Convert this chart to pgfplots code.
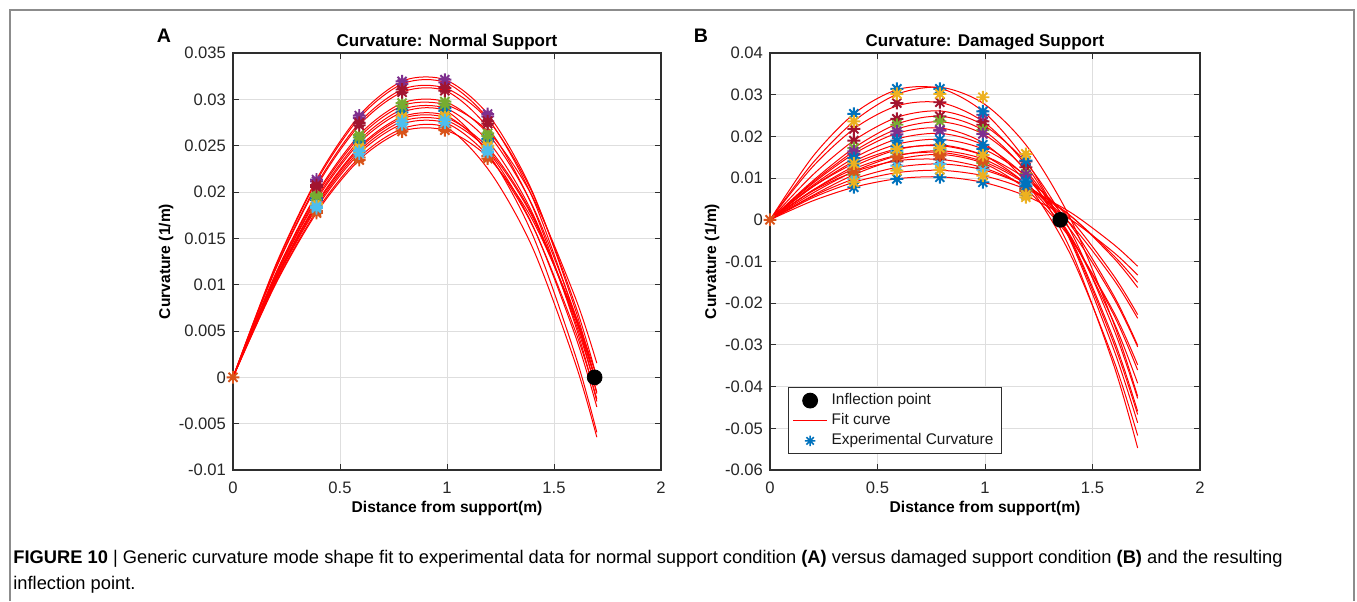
\documentclass[border=0pt]{standalone}
\usepackage{fontspec}
\setmainfont{Liberation Sans}
\usepackage{pgfplots}
\pgfplotsset{compat=1.18}
\definecolor{mblue}{rgb}{0,0.447,0.741}
\definecolor{morange}{rgb}{0.850,0.325,0.098}
\definecolor{myellow}{rgb}{0.929,0.694,0.125}
\definecolor{mpurple}{rgb}{0.494,0.184,0.556}
\definecolor{mgreen}{rgb}{0.466,0.674,0.188}
\definecolor{mltblue}{rgb}{0.301,0.745,0.933}
\definecolor{mdkred}{rgb}{0.635,0.078,0.184}
\pgfdeclareplotmark{ast8}{%
  \pgfpathmoveto{\pgfqpoint{-\pgfplotmarksize}{0pt}}\pgfpathlineto{\pgfqpoint{\pgfplotmarksize}{0pt}}%
  \pgfpathmoveto{\pgfqpoint{0pt}{-\pgfplotmarksize}}\pgfpathlineto{\pgfqpoint{0pt}{\pgfplotmarksize}}%
  \pgfpathmoveto{\pgfqpoint{-0.707\pgfplotmarksize}{-0.707\pgfplotmarksize}}\pgfpathlineto{\pgfqpoint{0.707\pgfplotmarksize}{0.707\pgfplotmarksize}}%
  \pgfpathmoveto{\pgfqpoint{-0.707\pgfplotmarksize}{0.707\pgfplotmarksize}}\pgfpathlineto{\pgfqpoint{0.707\pgfplotmarksize}{-0.707\pgfplotmarksize}}%
  \pgfusepathqstroke}
\pgfplotsset{
  mstyle/.style={
    scale only axis, clip=false,
    axis line style={draw=black!82, line width=0.6pt},
    tick align=inside, major tick length=2.8pt,
    tick style={black!82, line width=0.5pt},
    grid=major, major grid style={black!13, line width=0.5pt},
    xmin=0, xmax=2, xtick={0,0.5,1,1.5,2}, xticklabels={0,0.5,1,1.5,2},
    tick label style={font=\fontsize{8.3}{10}\selectfont, text=black!85},
    xticklabel style={yshift=-2.5pt},
    scaled ticks=false,
    title style={font=\bfseries\fontsize{8.5}{10}\selectfont, at={(0.5,1.029)}, anchor=center, yshift=-6.5pt},
    xlabel style={font=\bfseries\fontsize{7.8}{9}\selectfont, at={(0.5,-0.0911)}, anchor=center},
    ylabel style={font=\bfseries\fontsize{7.8}{9}\selectfont, anchor=center},
    xlabel={Distance from support(m)}, ylabel={Curvature (1/m)},
  },
  fitc/.style={red, line width=0.5pt, smooth, no marks, forget plot},
  expm/.style={only marks, mark=ast8, mark size=3.2pt, line width=0.95pt, forget plot},
}
\begin{document}
\begin{tikzpicture}
\path[use as bounding box] (0,0) rectangle (678.5pt,-300.5pt);
\draw[black!45, line width=0.6pt] (5pt,-300.5pt) -- (5pt,-5pt) -- (677pt,-5pt) -- (677pt,-300.5pt);
\node[font=\bfseries\fontsize{9.8}{11}\selectfont] at (82pt,-18pt) {A};
\node[font=\bfseries\fontsize{9.8}{11}\selectfont] at (350.5pt,-18pt) {B};
\node[anchor=base west, font=\fontsize{9.15}{10}\selectfont, inner sep=0pt] at (6.5pt,-281.5pt) {\textbf{FIGURE 10} | Generic curvature mode shape fit to experimental data for normal support condition \textbf{(A)} versus damaged support condition \textbf{(B)} and the resulting};
\node[anchor=base west, font=\fontsize{9.15}{10}\selectfont, inner sep=0pt] at (6.5pt,-294.5pt) {inflection point.};

% ---------------- Panel A ----------------
\begin{axis}[mstyle, at={(116.5pt,-26.5pt)}, anchor=north west, width=214pt, height=208.5pt,
  ymin=-0.01, ymax=0.035,
  ytick={-0.01,-0.005,0,0.005,0.01,0.015,0.02,0.025,0.03,0.035},
  yticklabels={-0.01,-0.005,0,0.005,0.01,0.015,0.02,0.025,0.03,0.035},
  title={Curvature: Normal Support},
  ylabel style={at={(-0.1565,0.5)}}]
\addplot[fitc] coordinates {(0,0) (0.2,0.012145) (0.4,0.021759) (0.6,0.028506) (0.8,0.032042) (1.0,0.032029) (1.2,0.028126) (1.4,0.019994) (1.6,0.007296) (1.7,-0.000874)};
\addplot[fitc] coordinates {(0,0) (0.2,0.012033) (0.4,0.021558) (0.6,0.028243) (0.8,0.031746) (1.0,0.031733) (1.2,0.027653) (1.4,0.019381) (1.6,0.006514) (1.7,-0.001752)};
\addplot[fitc] coordinates {(0,0) (0.2,0.011809) (0.4,0.021156) (0.6,0.027716) (0.8,0.031154) (1.0,0.031142) (1.2,0.027552) (1.4,0.019851) (1.6,0.00778) (1.7,0)};
\addplot[fitc] coordinates {(0,0) (0.2,0.011697) (0.4,0.020955) (0.6,0.027453) (0.8,0.030859) (1.0,0.030846) (1.2,0.026664) (1.4,0.018404) (1.6,0.005609) (1.7,-0.002595)};
\addplot[fitc] coordinates {(0,0) (0.2,0.011248) (0.4,0.020152) (0.6,0.026401) (0.8,0.029676) (1.0,0.029664) (1.2,0.026049) (1.4,0.018518) (1.6,0.006757) (1.7,-0.00081)};
\addplot[fitc] coordinates {(0,0) (0.2,0.011136) (0.4,0.019951) (0.6,0.026138) (0.8,0.02938) (1.0,0.029368) (1.2,0.02634) (1.4,0.019462) (1.6,0.008576) (1.7,0.001535)};
\addplot[fitc] coordinates {(0,0) (0.2,0.010688) (0.4,0.019148) (0.6,0.025085) (0.8,0.028197) (1.0,0.028185) (1.2,0.024161) (1.4,0.016411) (1.6,0.004456) (1.7,-0.003197)};
\addplot[fitc] coordinates {(0,0) (0.2,0.010613) (0.4,0.019014) (0.6,0.02491) (0.8,0.028) (1.0,0.027988) (1.2,0.024577) (1.4,0.017472) (1.6,0.006376) (1.7,-0.000764)};
\addplot[fitc] coordinates {(0,0) (0.2,0.010987) (0.4,0.019683) (0.6,0.025787) (0.8,0.028985) (1.0,0.028974) (1.2,0.025249) (1.4,0.017696) (1.6,0.005948) (1.7,-0.001599)};
\addplot[fitc] coordinates {(0,0) (0.2,0.010875) (0.4,0.019482) (0.6,0.025524) (0.8,0.02869) (1.0,0.028678) (1.2,0.023911) (1.4,0.015379) (1.6,0.00236) (1.7,-0.005936)};
\addplot[fitc] coordinates {(0,0) (0.2,0.010501) (0.4,0.018813) (0.6,0.024647) (0.8,0.027704) (1.0,0.027693) (1.2,0.024318) (1.4,0.017287) (1.6,0.006308) (1.7,-0.000756)};
\addplot[fitc] coordinates {(0,0) (0.2,0.010389) (0.4,0.018612) (0.6,0.024383) (0.8,0.027408) (1.0,0.027397) (1.2,0.023683) (1.4,0.016346) (1.6,0.004982) (1.7,-0.002305)};
\addplot[fitc] coordinates {(0,0) (0.2,0.010202) (0.4,0.018277) (0.6,0.023945) (0.8,0.026915) (1.0,0.026904) (1.2,0.022209) (1.4,0.013986) (1.6,0.001499) (1.7,-0.006456)};
\addplot[fitc] coordinates {(0,0) (0.2,0.01009) (0.4,0.018077) (0.6,0.023682) (0.8,0.026619) (1.0,0.026609) (1.2,0.023541) (1.4,0.016961) (1.6,0.006647) (1.7,0)};
% experimental markers
\addplot[expm, color=mblue] coordinates {(0.39,0.01931) (0.59,0.02555) (0.79,0.0289) (0.99,0.02905) (1.19,0.02571)};
\addplot[expm, color=mblue] coordinates {(0.39,0.01911) (0.59,0.02528) (0.79,0.0286) (0.99,0.02876) (1.19,0.02545)};
\addplot[expm, color=morange] coordinates {(0.39,0.01793) (0.59,0.02372) (0.79,0.02683) (0.99,0.02698) (1.19,0.02387)};
\addplot[expm, color=morange] coordinates {(0.39,0.01773) (0.59,0.02346) (0.79,0.02654) (0.99,0.02668) (1.19,0.02361)};
\addplot[expm, color=myellow] coordinates {(0.39,0.01878) (0.59,0.02485) (0.79,0.02811) (0.99,0.02826) (1.19,0.02501)};
\addplot[expm, color=myellow] coordinates {(0.39,0.01865) (0.59,0.02468) (0.79,0.02791) (0.99,0.02806) (1.19,0.02483)};
\addplot[expm, color=mpurple] coordinates {(0.39,0.02134) (0.59,0.02824) (0.79,0.03194) (0.99,0.03212) (1.19,0.02842)};
\addplot[expm, color=mpurple] coordinates {(0.39,0.02115) (0.59,0.02798) (0.79,0.03165) (0.99,0.03182) (1.19,0.02816)};
\addplot[expm, color=mgreen] coordinates {(0.39,0.01977) (0.59,0.02615) (0.79,0.02959) (0.99,0.02975) (1.19,0.02632)};
\addplot[expm, color=mgreen] coordinates {(0.39,0.01957) (0.59,0.02589) (0.79,0.02929) (0.99,0.02945) (1.19,0.02606)};
\addplot[expm, color=mltblue] coordinates {(0.39,0.01845) (0.59,0.02442) (0.79,0.02762) (0.99,0.02777) (1.19,0.02457)};
\addplot[expm, color=mltblue] coordinates {(0.39,0.01826) (0.59,0.02416) (0.79,0.02732) (0.99,0.02747) (1.19,0.02431)};
\addplot[expm, color=mdkred] coordinates {(0.39,0.02075) (0.59,0.02746) (0.79,0.03106) (0.99,0.03123) (1.19,0.02763)};
\addplot[expm, color=mdkred] coordinates {(0.39,0.02055) (0.59,0.0272) (0.79,0.03077) (0.99,0.03093) (1.19,0.02737)};
\addplot[expm, color=morange] coordinates {(0,0)};
\addplot[only marks, mark=*, mark size=3.7pt, black, forget plot] coordinates {(1.69,0)};
\end{axis}

% ---------------- Panel B ----------------
\begin{axis}[mstyle, at={(385pt,-26.5pt)}, anchor=north west, width=215pt, height=208.5pt,
  ymin=-0.06, ymax=0.04,
  ytick={-0.06,-0.05,-0.04,-0.03,-0.02,-0.01,0,0.01,0.02,0.03,0.04},
  yticklabels={-0.06,-0.05,-0.04,-0.03,-0.02,-0.01,0,0.01,0.02,0.03,0.04},
  title={Curvature: Damaged Support},
  ylabel style={at={(-0.1349,0.5)}},
  legend style={at={(0.042,0.199)}, anchor=north west, draw=black!82, line width=0.5pt,
    font=\fontsize{7.7}{9.5}\selectfont, text=black!90, inner xsep=2pt, inner ysep=1pt, row sep=-1pt},
  legend cell align=left]
\addlegendimage{only marks, mark=*, mark size=3.7pt, black, draw=black, fill=black}
\addlegendentry{Inflection point}
\addlegendimage{draw=red, red, line width=0.5pt, no marks}
\addlegendentry{Fit curve}
\addlegendimage{only marks, mark=ast8, mark size=2.6pt, line width=0.8pt, draw=mblue, mblue}
\addlegendentry{Experimental Curvature}
\addplot[fitc] coordinates {(0,0) (0.2,0.01523) (0.4,0.02581) (0.6,0.03133) (0.8,0.03139) (1.0,0.02556) (1.2,0.01345) (1.4,-0.00535) (1.6,-0.03126) (1.71,-0.04869)};
\addplot[fitc] coordinates {(0,0) (0.2,0.01369) (0.4,0.02402) (0.6,0.03028) (0.8,0.03173) (1.0,0.02765) (1.2,0.01732) (1.4,0) (1.6,-0.02502) (1.71,-0.04234)};
\addplot[fitc] coordinates {(0,0) (0.2,0.01281) (0.4,0.02218) (0.6,0.02746) (0.8,0.02803) (1.0,0.02323) (1.2,0.01242) (1.4,-0.00502) (1.6,-0.02974) (1.71,-0.04668)};
\addplot[fitc] coordinates {(0,0) (0.2,0.01082) (0.4,0.01936) (0.6,0.02473) (0.8,0.02606) (1.0,0.02249) (1.2,0.01314) (1.4,-0.00286) (1.6,-0.02638) (1.71,-0.04284)};
\addplot[fitc] coordinates {(0,0) (0.2,0.00939) (0.4,0.01756) (0.6,0.02315) (0.8,0.0248) (1.0,0.02117) (1.2,0.01089) (1.4,-0.00739) (1.6,-0.03504) (1.71,-0.05472)};
\addplot[fitc] coordinates {(0,0) (0.2,0.00906) (0.4,0.01673) (0.6,0.02192) (0.8,0.02348) (1.0,0.02031) (1.2,0.01129) (1.4,-0.00472) (1.6,-0.02881) (1.71,-0.04592)};
\addplot[fitc] coordinates {(0,0) (0.2,0.00877) (0.4,0.01612) (0.6,0.0209) (0.8,0.02197) (1.0,0.01818) (1.2,0.00837) (1.4,-0.00859) (1.6,-0.03387) (1.71,-0.05173)};
\addplot[fitc] coordinates {(0,0) (0.2,0.00829) (0.4,0.01509) (0.6,0.01952) (0.8,0.02069) (1.0,0.01774) (1.2,0.00978) (1.4,-0.00406) (1.6,-0.02466) (1.71,-0.03919)};
\addplot[fitc] coordinates {(0,0) (0.2,0.00798) (0.4,0.01426) (0.6,0.01824) (0.8,0.01929) (1.0,0.01678) (1.2,0.0101) (1.4,-0.00138) (1.6,-0.01828) (1.71,-0.03011)};
\addplot[fitc] coordinates {(0,0) (0.2,0.00588) (0.4,0.01103) (0.6,0.01458) (0.8,0.01566) (1.0,0.01339) (1.2,0.0069) (1.4,-0.00469) (1.6,-0.02226) (1.71,-0.03478)};
\addplot[fitc] coordinates {(0,0) (0.2,0.00644) (0.4,0.01183) (0.6,0.01545) (0.8,0.01655) (1.0,0.0144) (1.2,0.00827) (1.4,-0.00258) (1.6,-0.0189) (1.71,-0.03046)};
\addplot[fitc] coordinates {(0,0) (0.2,0.00566) (0.4,0.00998) (0.6,0.01266) (0.8,0.01339) (1.0,0.01187) (1.2,0.00779) (1.4,0.00086) (1.6,-0.00923) (1.71,-0.01624)};
\addplot[fitc] coordinates {(0,0) (0.2,0.00532) (0.4,0.00916) (0.6,0.01137) (0.8,0.01186) (1.0,0.01049) (1.2,0.00714) (1.4,0.0017) (1.6,-0.00596) (1.71,-0.01116)};
\addplot[fitc] coordinates {(0,0) (0.2,0.00457) (0.4,0.00794) (0.6,0.0099) (0.8,0.01028) (1.0,0.00888) (1.2,0.00552) (1.4,0) (1.6,-0.00787) (1.71,-0.01326)};
\addplot[fitc] coordinates {(0,0) (0.2,0.00714) (0.4,0.01305) (0.6,0.01692) (0.8,0.01793) (1.0,0.01527) (1.2,0.00811) (1.4,-0.00434) (1.6,-0.02291) (1.71,-0.03603)};
\addplot[fitc] coordinates {(0,0) (0.2,0.00711) (0.4,0.01242) (0.6,0.01555) (0.8,0.01614) (1.0,0.01381) (1.2,0.00818) (1.4,-0.0011) (1.6,-0.01443) (1.71,-0.02362)};
\addplot[fitc] coordinates {(0,0) (0.2,0.00793) (0.4,0.01373) (0.6,0.01711) (0.8,0.01773) (1.0,0.0153) (1.2,0.00949) (1.4,0) (1.6,-0.01349) (1.71,-0.02274)};
\addplot[fitc] coordinates {(0,0) (0.2,0.00693) (0.4,0.01168) (0.6,0.01421) (0.8,0.01445) (1.0,0.01234) (1.2,0.00782) (1.4,0.00084) (1.6,-0.00867) (1.71,-0.015)};
% experimental markers
\addplot[expm, color=mdkred] coordinates {(0.39,0.0218) (0.59,0.028) (0.79,0.0282) (0.99,0.0236) (1.19,0.014)};
\addplot[expm, color=mdkred] coordinates {(0.39,0.019) (0.59,0.0242) (0.79,0.0248) (0.99,0.0228) (1.19,0.0126)};
\addplot[expm, color=mdkred] coordinates {(0.39,0.0115) (0.59,0.014) (0.79,0.0145) (0.99,0.0125) (1.19,0.0075)};
\addplot[expm, color=mgreen] coordinates {(0.39,0.0172) (0.59,0.0228) (0.79,0.0236) (0.99,0.0215) (1.19,0.011)};
\addplot[expm, color=mgreen] coordinates {(0.39,0.0108) (0.59,0.016) (0.79,0.0166) (0.99,0.0136) (1.19,0.007)};
\addplot[expm, color=mpurple] coordinates {(0.39,0.0164) (0.59,0.0212) (0.79,0.0214) (0.99,0.0206) (1.19,0.0108)};
\addplot[expm, color=mpurple] coordinates {(0.39,0.0158) (0.59,0.0205) (0.79,0.0215) (0.99,0.0252) (1.19,0.0095)};
\addplot[expm, color=mltblue] coordinates {(0.39,0.0098) (0.59,0.013) (0.79,0.0134) (0.99,0.012) (1.19,0.0062)};
\addplot[expm, color=mltblue] coordinates {(0.39,0.0128) (0.59,0.0165) (0.79,0.017) (0.99,0.0155) (1.19,0.0085)};
\addplot[expm, color=morange] coordinates {(0.39,0.0116) (0.59,0.015) (0.79,0.0154) (0.99,0.0146) (1.19,0.0068)};
\addplot[expm, color=morange] coordinates {(0.39,0.0122) (0.59,0.0152) (0.79,0.0158) (0.99,0.014) (1.19,0.0072)};
\addplot[expm, color=mblue] coordinates {(0.39,0.0254) (0.59,0.0314) (0.79,0.0314) (0.99,0.026) (1.19,0.0142)};
\addplot[expm, color=mblue] coordinates {(0.39,0.0148) (0.59,0.019) (0.79,0.0192) (0.99,0.018) (1.19,0.0092)};
\addplot[expm, color=mblue] coordinates {(0.39,0.014) (0.59,0.0176) (0.79,0.018) (0.99,0.017) (1.19,0.008)};
\addplot[expm, color=mblue] coordinates {(0.39,0.0078) (0.59,0.0098) (0.79,0.0102) (0.99,0.009) (1.19,0.006)};
\addplot[expm, color=myellow] coordinates {(0.39,0.0236) (0.59,0.0302) (0.79,0.0302) (0.99,0.0294) (1.19,0.0158)};
\addplot[expm, color=myellow] coordinates {(0.39,0.009) (0.59,0.0118) (0.79,0.012) (0.99,0.0106) (1.19,0.0054)};
\addplot[expm, color=myellow] coordinates {(0.39,0.0135) (0.59,0.017) (0.79,0.0172) (0.99,0.0155) (1.19,0.006)};
\addplot[expm, color=morange] coordinates {(0,0)};
\addplot[only marks, mark=*, mark size=3.7pt, black, forget plot] coordinates {(1.35,0)};
\end{axis}
\end{tikzpicture}
\end{document}
